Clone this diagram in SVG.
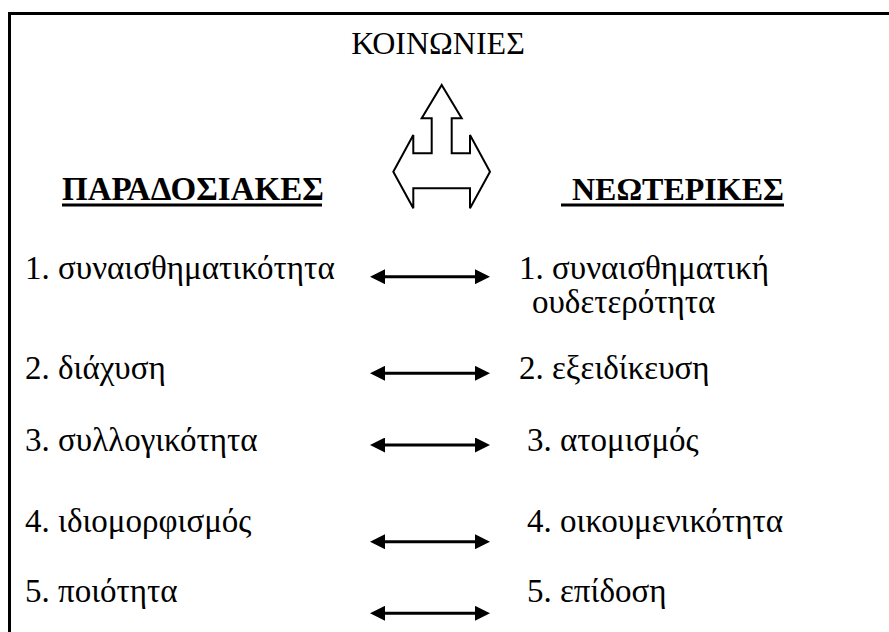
<svg xmlns="http://www.w3.org/2000/svg" width="889" height="632" viewBox="0 0 889 632">
<style>
  .t { font-family: 'Liberation Serif', serif; font-size: 33px; fill: #000; }
  .b { font-weight: bold; }
  .ul { stroke: #000; stroke-width: 3; }
  .conn { stroke: #000; stroke-width: 3; fill: none; marker-start: url(#ah); marker-end: url(#ah); }
</style>
<defs>
  <marker id="ah" viewBox="0 0 10 10" refX="5" refY="5" markerWidth="5" markerHeight="5" orient="auto-start-reverse" markerUnits="strokeWidth">
    <path d="M0,0 L10,5 L0,10 Z" fill="#000"/>
  </marker>
</defs>
<rect width="889" height="632" fill="#fff"/>
<g id="frame" stroke="#000" stroke-width="3" fill="none">
  <path d="M9.5,632 L9.5,13.5 L889,13.5"/>
</g>
<g id="title"><text class="t" x="438" y="54" style="font-size:32px" text-anchor="middle">ΚΟΙΝΩΝΙΕΣ</text></g>
<g id="head-left">
  <text class="t b" x="62" y="200">ΠΑΡΑΔΟΣΙΑΚΕΣ</text>
  <line class="ul" x1="62" y1="205" x2="322" y2="205"/>
</g>
<g id="head-right">
  <text class="t b" x="572" y="200" style="font-size:32px">ΝΕΩΤΕΡΙΚΕΣ</text>
  <line class="ul" x1="561" y1="205" x2="784" y2="205"/>
</g>
<g id="left1"><text class="t" x="25" y="279">1. συναισθηματικότητα</text></g>
<g id="right1"><text class="t" x="519" y="279">1. συναισθηματική</text><text class="t" x="532" y="313">ουδετερότητα</text></g>
<g id="left2"><text class="t" x="25" y="379">2. διάχυση</text></g>
<g id="right2"><text class="t" x="519" y="379">2. εξειδίκευση</text></g>
<g id="left3"><text class="t" x="25" y="451">3. συλλογικότητα</text></g>
<g id="right3"><text class="t" x="527" y="451">3. ατομισμός</text></g>
<g id="left4"><text class="t" x="25" y="532">4. ιδιομορφισμός</text></g>
<g id="right4"><text class="t" x="527" y="532">4. οικουμενικότητα</text></g>
<g id="left5"><text class="t" x="25" y="602">5. ποιότητα</text></g>
<g id="right5"><text class="t" x="527" y="602">5. επίδοση</text></g>
<g id="bigarrow">
  <path d="M441.7,85 L461.7,118.3 L451.7,118.3 L451.7,153.3 L470,153.3 L470,135 L490,171.7 L470,208.3 L470,188.3 L413.3,188.3 L413.3,208.3 L393.3,171.7 L413.3,135 L413.3,153.3 L431.7,153.3 L431.7,118.3 L421.7,118.3 Z" fill="#fff" stroke="#000" stroke-width="2" stroke-linejoin="miter"/>
</g>
<g id="connectors">
  <line class="conn" x1="377.5" y1="276.7" x2="482.5" y2="276.7"/>
  <line class="conn" x1="377.5" y1="373.3" x2="482.5" y2="373.3"/>
  <line class="conn" x1="377.5" y1="445" x2="482.5" y2="445"/>
  <line class="conn" x1="377.5" y1="541.7" x2="482.5" y2="541.7"/>
  <line class="conn" x1="377.5" y1="613.3" x2="482.5" y2="613.3"/>
</g>
</svg>
